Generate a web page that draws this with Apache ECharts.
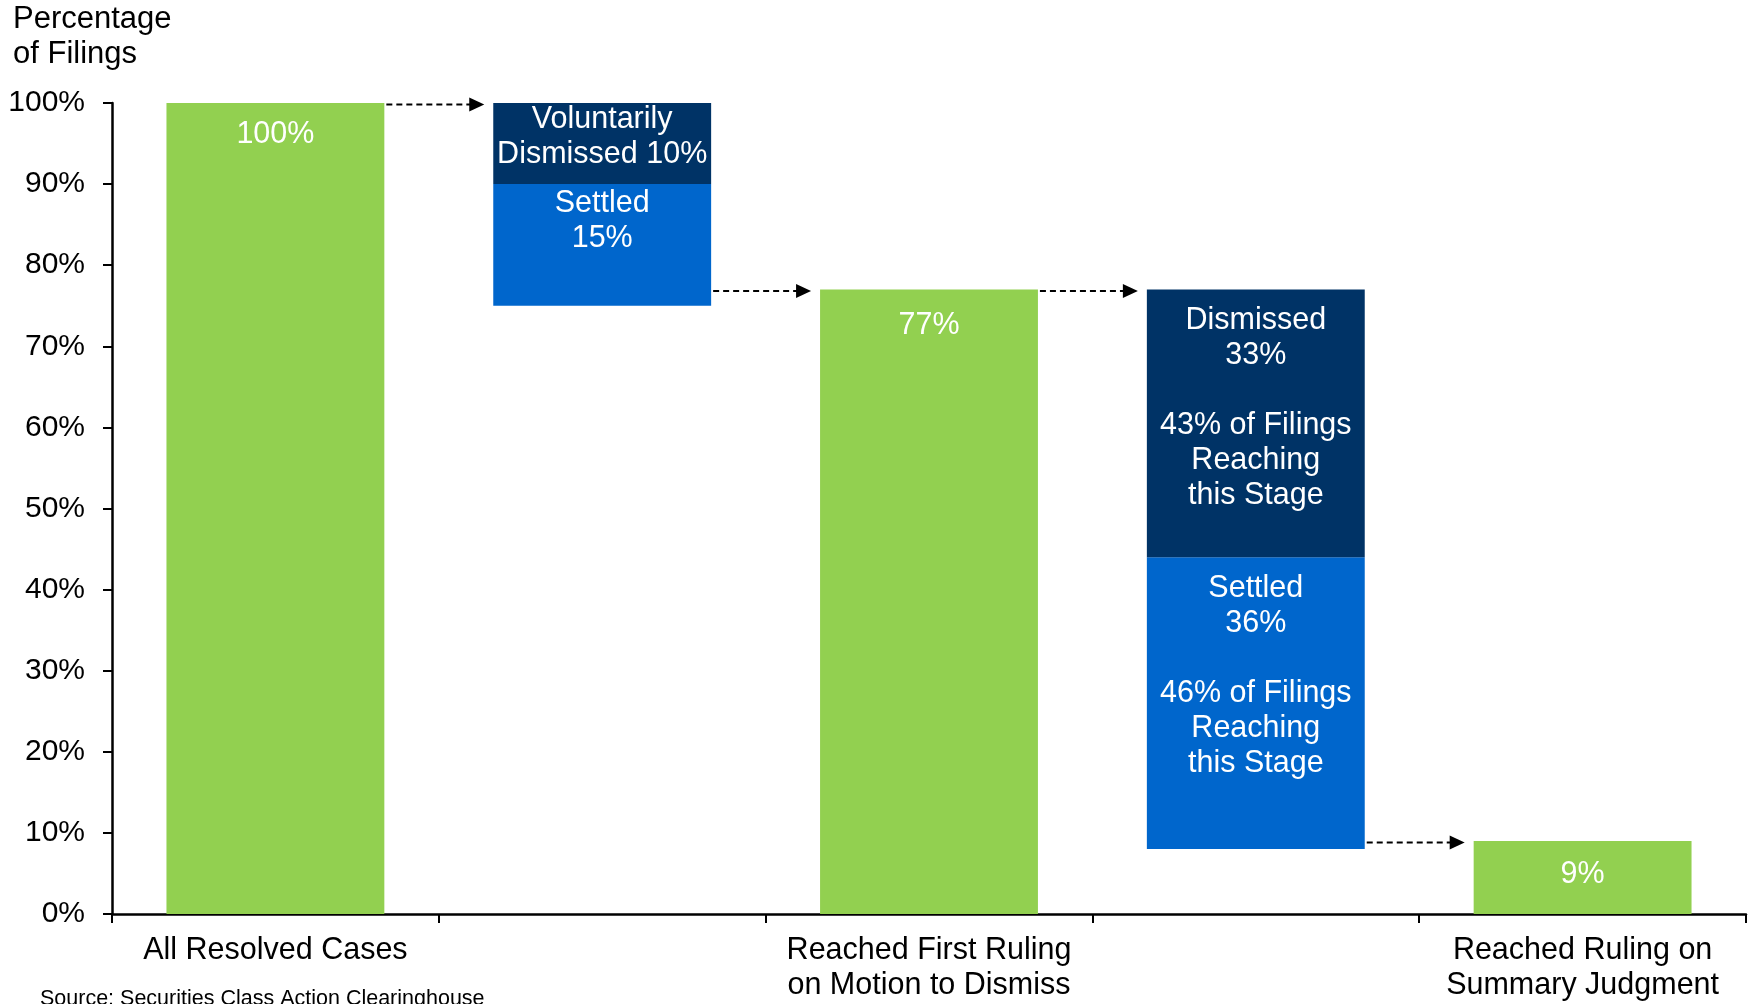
<!DOCTYPE html>
<html>
<head>
<meta charset="utf-8">
<script src="https://cdn.jsdelivr.net/npm/echarts@6/dist/echarts.min.js"></script>
<style>
  html, body { margin: 0; padding: 0; background: #ffffff; }
  #chart { width: 1755px; height: 1004px; }
</style>
</head>
<body>
<div id="chart"></div>
<script>
// Stages of resolved securities class actions (percentage of filings)
const categories = [
  'All Resolved Cases',
  '',
  'Reached First Ruling\non Motion to Dismiss',
  '',
  'Reached Ruling on\nSummary Judgment'
];
const reached   = [100, null, 77, null, 9];
const settled   = [null, 15, null, 36, null];
const dismissed = [null, 10, null, 33, null];

const settledText = [
  null,
  'Settled\n15%',
  null,
  'Settled\n36%\n\n46% of Filings\nReaching\nthis Stage',
  null
];
const dismissedText = [
  null,
  'Voluntarily\nDismissed 10%',
  null,
  'Dismissed\n33%\n\n43% of Filings\nReaching\nthis Stage',
  null
];
const yTickValues = [0, 10, 20, 30, 40, 50, 60, 70, 80, 90, 100];
const sourceNote = 'Source: Securities Class Action Clearinghouse';

const FONT = '"Liberation Sans", Arial, Helvetica, sans-serif';
const GREEN = '#92D050';
const BLUE = '#0066CC';
const NAVY = '#003366';
const BAR_RATIO = 2 / 3;

// Invisible offset so each breakdown block hangs from the previous stage's top
const offset = categories.map((c, i) => {
  if (settled[i] == null) return null;
  return reached[i - 1] - settled[i] - dismissed[i];
});

// Top of each category's column, used for the connecting arrows
const columnTop = categories.map((c, i) =>
  reached[i] != null ? reached[i] : offset[i] + settled[i] + dismissed[i]
);
const arrows = [];
for (let i = 0; i < categories.length - 1; i++) arrows.push([i, columnTop[i + 1]]);

const labelBase = {
  show: true,
  color: '#ffffff',
  fontFamily: FONT,
  fontSize: 30.5,
  lineHeight: 35,
  position: 'insideTop',
  distance: 14,
  align: 'center'
};

// label spacing from the top of each green column
const reachedLabelGap = [14, null, 19, null, 16];

const chart = echarts.init(document.getElementById('chart'), null, { renderer: 'canvas' });

chart.setOption({
  animation: false,
  backgroundColor: '#ffffff',
  title: {
    text: 'Percentage\nof Filings',
    left: 13,
    top: 2,
    padding: 0,
    textStyle: { fontFamily: FONT, fontSize: 31, lineHeight: 35, fontWeight: 'normal', color: '#000' }
  },
  graphic: [{
    type: 'text',
    left: 40,
    top: 988,
    style: { text: sourceNote, fontFamily: FONT, fontSize: 21.5, fill: '#000' }
  }],
  grid: { left: 112, right: 9, top: 103, bottom: 90, containLabel: false },
  xAxis: {
    type: 'category',
    data: categories,
    axisLine: { show: true, lineStyle: { color: '#000', width: 2.5 } },
    axisTick: { show: true, length: 9, lineStyle: { color: '#000', width: 2 } },
    axisLabel: {
      interval: 0,
      margin: 19,
      color: '#000',
      fontFamily: FONT,
      fontSize: 30.5,
      lineHeight: 35
    },
    splitLine: { show: false }
  },
  yAxis: {
    type: 'value',
    min: yTickValues[0],
    max: yTickValues[yTickValues.length - 1],
    interval: 10,
    axisLine: { show: true, lineStyle: { color: '#000', width: 2.5 } },
    axisTick: { show: true, length: 9, lineStyle: { color: '#000', width: 2 } },
    axisLabel: {
      margin: 27,
      color: '#000',
      fontFamily: FONT,
      fontSize: 30,
      formatter: '{value}%'
    },
    splitLine: { show: false }
  },
  series: [
    {
      name: 'offset',
      type: 'bar',
      stack: 'stage',
      barWidth: (BAR_RATIO * 100).toFixed(2) + '%',
      itemStyle: { color: 'transparent' },
      emphasis: { disabled: true },
      silent: true,
      data: offset.map(v => (v == null ? '-' : v))
    },
    {
      name: 'Reached',
      type: 'bar',
      stack: 'stage',
      itemStyle: { color: GREEN },
      data: reached.map((v, i) => v == null ? '-' : {
        value: v,
        label: Object.assign({}, labelBase, {
          formatter: '{c}%',
          distance: reachedLabelGap[i]
        })
      })
    },
    {
      name: 'Settled',
      type: 'bar',
      stack: 'stage',
      itemStyle: { color: BLUE },
      data: settled.map((v, i) => v == null ? '-' : {
        value: v,
        label: Object.assign({}, labelBase, {
          formatter: settledText[i],
          distance: i === 1 ? 2 : 14
        })
      })
    },
    {
      name: 'Dismissed',
      type: 'bar',
      stack: 'stage',
      itemStyle: { color: NAVY },
      data: dismissed.map((v, i) => v == null ? '-' : {
        value: v,
        label: Object.assign({}, labelBase, {
          formatter: dismissedText[i],
          distance: i === 1 ? -1 : 14
        })
      })
    },
    {
      name: 'flow',
      type: 'custom',
      silent: true,
      clip: false,
      z: 5,
      encode: { x: 0, y: 1 },
      data: arrows,
      renderItem: function (params, api) {
        const i = api.value(0);
        const level = api.value(1);
        const band = api.size([1, 0])[0];
        const half = band * BAR_RATIO / 2;
        const a = api.coord([i, level]);
        const b = api.coord([i + 1, level]);
        const y = a[1] + 1.5;
        const x0 = a[0] + half + 2;
        const tip = b[0] - half - 9;
        return {
          type: 'group',
          children: [
            {
              type: 'line',
              shape: { x1: x0, y1: y, x2: tip - 13, y2: y },
              style: { stroke: '#000', lineWidth: 2, lineDash: [6, 4] }
            },
            {
              type: 'polygon',
              shape: { points: [[tip - 15, y - 7], [tip, y], [tip - 15, y + 7]] },
              style: { fill: '#000' }
            }
          ]
        };
      }
    }
  ]
});
</script>
</body>
</html>
